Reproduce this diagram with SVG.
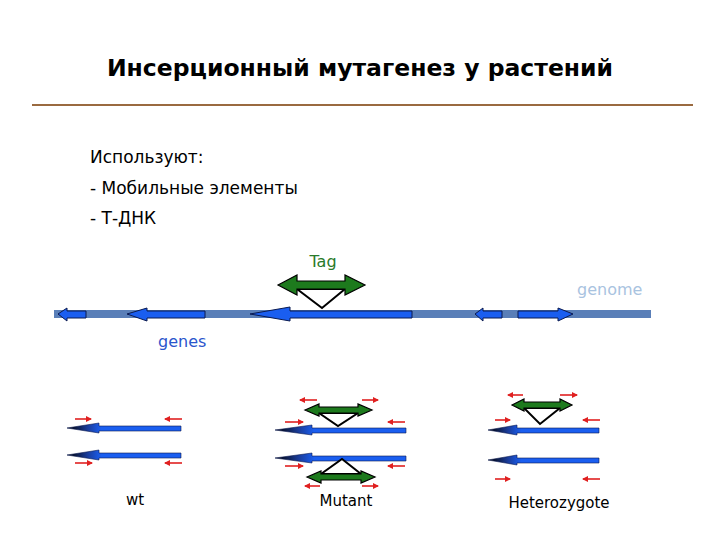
<svg xmlns="http://www.w3.org/2000/svg" width="720" height="540" viewBox="0 0 720 540">
<style>
text{font-family:"Comic Sans MS","DejaVu Sans","Liberation Sans",sans-serif}
.title{font-size:23.5px;font-weight:bold;fill:#000}
.body{font-size:17px;fill:#000}
.gene{fill:#1a5ef0;stroke:#0a1a50;stroke-width:1}
.tag{fill:#1d7a1d;stroke:#000;stroke-width:1.2}
.vee{fill:#fff;stroke:#000;stroke-width:2}
.red{stroke:#e02020;stroke-width:1.6;fill:none;marker-end:url(#rh)}
</style>
<defs>
<marker id="rh" markerWidth="6" markerHeight="6" refX="5" refY="3" orient="auto" markerUnits="userSpaceOnUse">
<path d="M0,0 L6,3 L0,6 Z" fill="#e02020"/>
</marker>
<linearGradient id="tipL" x1="0" y1="0" x2="1" y2="0">
<stop offset="0" stop-color="#000"/>
<stop offset="0.18" stop-color="#1a3c9a"/>
<stop offset="0.3" stop-color="#1a5ef0"/>
<stop offset="1" stop-color="#1a5ef0"/>
</linearGradient>
</defs>

<g id="title">
<text class="title" x="360" y="76" text-anchor="middle">Инсерционный мутагенез у растений</text>
<line x1="32" y1="105" x2="693" y2="105" stroke="#9a6a40" stroke-width="2"/>
</g>

<g id="intro">
<text class="body" x="90" y="163">Используют:</text>
<text class="body" x="90" y="194">- Мобильные элементы</text>
<text class="body" x="90" y="224">- Т-ДНК</text>
</g>

<g id="genome">
<rect x="54" y="310" width="597" height="8" fill="#5a7fb8"/>
<text x="577" y="295" font-size="16" fill="#a9c3df">genome</text>
</g>

<g id="genes">
<polygon class="gene" points="58,314 67,308 67,311 86,311 86,318 67,318 67,321"/>
<polygon class="gene" points="127,314 147,308 147,311 205,311 205,318 147,318 147,321"/>
<polygon class="gene" points="250,314 290,307 290,311 412,311 412,318 290,318 290,321"/>
<polygon class="gene" points="475,314 483,308 483,311 502,311 502,318 483,318 483,321"/>
<polygon class="gene" points="573,314 558,308 558,311 518,311 518,318 558,318 558,321"/>
<text x="158" y="347" font-size="16" fill="#2a55cc">genes</text>
</g>

<g id="tag">
<polygon class="vee" points="297,289 345,289 322,308"/>
<polygon class="tag" points="278,285 297,275 297,281 345,281 345,275 365,285 345,295 345,289 297,289 297,295"/>
<text x="323" y="267" font-size="16" fill="#2a7a2a" text-anchor="middle">Tag</text>
</g>

<g id="wt">
<polygon fill="url(#tipL)" stroke="#0a1a50" stroke-width="0.6" points="67,428 99,423 99,426 181,426 181,431 99,431 99,433"/>
<polygon fill="url(#tipL)" stroke="#0a1a50" stroke-width="0.6" points="67,455 99,450 99,453 181,453 181,458 99,458 99,460"/>
<path class="red" d="M75,419 H91"/>
<path class="red" d="M182,419 H165"/>
<path class="red" d="M75,463 H92"/>
<path class="red" d="M182,463 H165"/>
<text x="135" y="505" font-size="15" fill="#000" text-anchor="middle">wt</text>
</g>

<g id="mutant">
<polygon class="vee" points="319,413 358,413 338,426"/>
<polygon class="tag" points="305,410 319,404 319,407 358,407 358,404 372,410 358,416 358,413 319,413 319,416"/>
<polygon fill="url(#tipL)" stroke="#0a1a50" stroke-width="0.6" points="275,430 312,425 312,428 406,428 406,433 312,433 312,435"/>
<polygon fill="url(#tipL)" stroke="#0a1a50" stroke-width="0.6" points="275,458 312,453 312,456 406,456 406,461 312,461 312,463"/>
<polygon class="vee" points="321,474 361,474 342,459"/>
<polygon class="tag" points="307,477 321,471 321,474 361,474 361,471 375,477 361,483 361,480 321,480 321,483"/>
<path class="red" d="M317,400 H300"/>
<path class="red" d="M362,400 H378"/>
<path class="red" d="M285,422 H303"/>
<path class="red" d="M405,422 H388"/>
<path class="red" d="M285,466 H303"/>
<path class="red" d="M405,466 H388"/>
<path class="red" d="M320,486 H305"/>
<path class="red" d="M362,486 H378"/>
<text x="346" y="506" font-size="15" fill="#000" text-anchor="middle">Mutant</text>
</g>

<g id="heterozygote">
<polygon class="vee" points="524,408 560,408 540,424"/>
<polygon class="tag" points="512,405 524,399 524,402 560,402 560,399 572,405 560,411 560,408 524,408 524,411"/>
<polygon fill="url(#tipL)" stroke="#0a1a50" stroke-width="0.6" points="488,430 517,425 517,428 599,428 599,433 517,433 517,435"/>
<polygon fill="url(#tipL)" stroke="#0a1a50" stroke-width="0.6" points="488,460 517,455 517,458 599,458 599,463 517,463 517,465"/>
<path class="red" d="M523,395 H508"/>
<path class="red" d="M560,395 H577"/>
<path class="red" d="M495,420 H510"/>
<path class="red" d="M600,420 H583"/>
<path class="red" d="M495,479 H510"/>
<path class="red" d="M600,479 H583"/>
<text x="559" y="508" font-size="15" fill="#000" text-anchor="middle">Heterozygote</text>
</g>
</svg>
